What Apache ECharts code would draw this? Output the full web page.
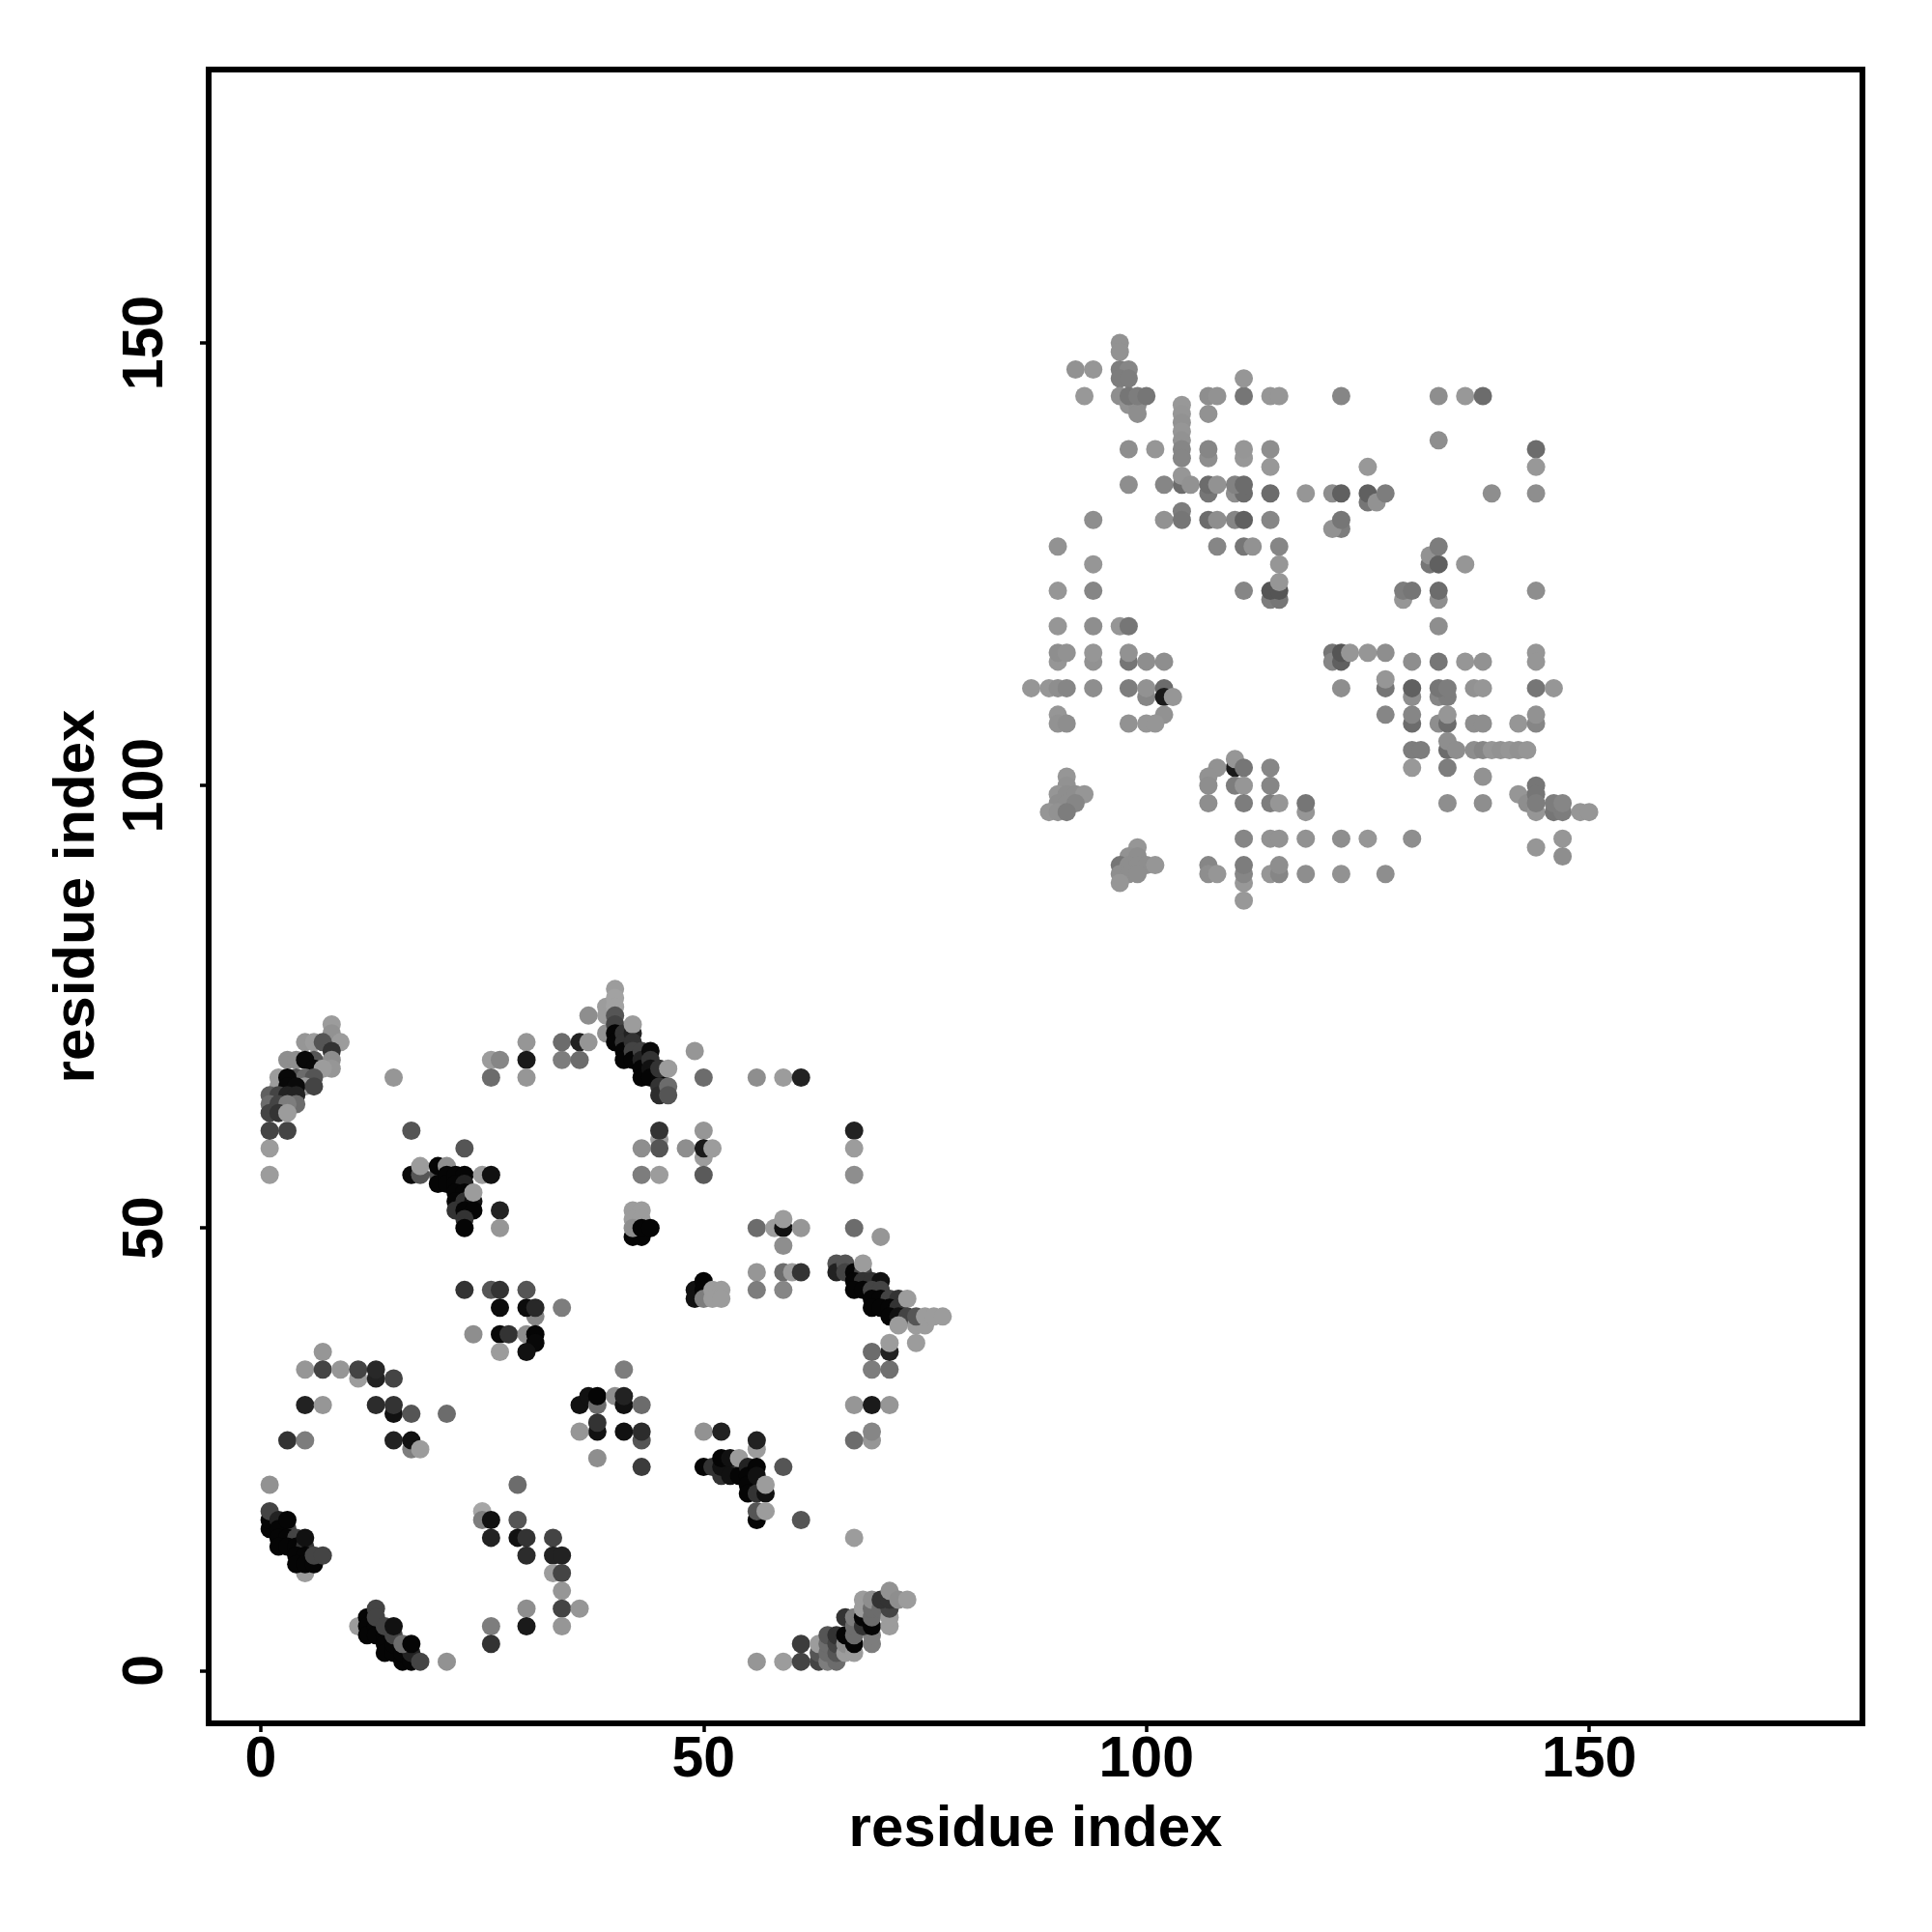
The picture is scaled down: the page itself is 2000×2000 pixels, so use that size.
<!DOCTYPE html>
<html><head><meta charset="utf-8">
<style>html,body{margin:0;padding:0;background:#fff}#c{width:2000px;height:2000px}</style>
<script src="https://cdn.jsdelivr.net/npm/echarts@6/dist/echarts.min.js"></script>
</head><body><div id="c"></div>
<script>
// Each contact: [residue i, residue j, grey level]
const axisTitle = 'residue index';
const tickValues = [0, 50, 100, 150];
const arcUpperLeft = [[1,56,0x96],[1,59,0x96],[1,61,0x44],[3,61,0x44],[8,73,0x96],[8,72,0x8c],[9,71,0x96],[5,71,0x90],[6,71,0x96],[7,71,0x55],[8,70,0x33],[8,69,0x88],[3,69,0x88],[4,69,0x88],[6,69,0x55],[5,69,0x08],[6,68,0x08],[8,68,0x90],[7,68,0x96],[2,67,0x96],[4,67,0x55],[5,67,0x66],[6,67,0x55],[2,66,0x96],[5,66,0x96],[3,67,0x08],[3,66,0x08],[4,66,0x0a],[6,66,0x44],[1,65,0x60],[2,65,0x44],[3,65,0x22],[4,65,0x22],[1,64,0x66],[2,64,0x44],[4,64,0x66],[3,64,0x77],[1,63,0x44],[2,63,0x33],[3,63,0x96]];
const blockA = [[15,67,0x90],[17,61,0x55],[23,59,0x55],[17,56,0x0a],[18,56,0x55],[18,57,0x96],[20,56,0x55],[20,55,0x05],[20,57,0x05],[21,57,0x88],[21,56,0x05],[21,55,0x05],[22,56,0x05],[23,56,0x05],[25,56,0x96],[26,56,0x11],[22,55,0x05],[23,55,0x22],[22,54,0x05],[23,54,0x05],[22,53,0x05],[23,53,0x33],[24,53,0x11],[22,52,0x33],[23,52,0x05],[24,52,0x05],[23,51,0x33],[23,50,0x05],[27,52,0x22],[27,50,0x90],[24,54,0x96]];
const blockB = [[26,43,0x55],[23,43,0x33],[27,43,0x33],[30,43,0x55],[27,41,0x0c],[31,40,0x80],[30,41,0x0c],[31,41,0x28],[34,41,0x77],[24,38,0x88],[27,38,0x08],[28,38,0x33],[30,38,0x88],[31,38,0x05],[31,37,0x08],[30,36,0x11],[27,36,0x96]];
const blockC = [[7,36,0x90],[5,34,0x90],[7,34,0x44],[9,34,0x90],[11,33,0x96],[11,34,0x44],[13,33,0x22],[13,34,0x28],[15,33,0x44],[5,30,0x22],[7,30,0x90],[13,30,0x2c],[15,29,0x11],[15,30,0x33],[17,29,0x55],[21,29,0x66],[3,26,0x33],[5,26,0x77],[15,26,0x22],[17,25,0x77],[17,26,0x11],[18,25,0x96],[1,21,0x8c]];
const diagLower = [[1,16,0x05],[1,17,0x05],[1,18,0x44],[2,17,0x22],[3,16,0x44],[2,16,0x05],[2,15,0x05],[3,15,0x05],[4,15,0x44],[2,14,0x05],[3,14,0x05],[4,14,0x05],[5,14,0x33],[3,17,0x05],[5,15,0x11],[5,11,0x96],[4,13,0x05],[5,13,0x05],[4,12,0x05],[5,12,0x05],[6,12,0x05],[6,13,0x44],[7,13,0x44]];
const blockD = [[25,18,0xa0],[25,17,0x77],[26,17,0x11],[29,21,0x66],[29,17,0x55],[26,15,0x22],[29,15,0x11],[30,15,0x33],[30,13,0x2c],[33,15,0x44],[33,13,0x22],[34,13,0x22],[33,11,0x96],[34,11,0x44],[34,9,0x90],[34,7,0x44],[36,7,0x90],[30,7,0x88],[30,5,0x1a],[34,5,0x90],[26,5,0x77],[26,3,0x33],[21,1,0x8c]];
const diagBottom = [[11,5,0x96],[12,6,0x05],[12,5,0x05],[12,4,0x05],[13,5,0x05],[13,4,0x05],[14,4,0x05],[14,3,0x05],[14,2,0x05],[15,2,0x05],[15,3,0x05],[16,1,0x05],[16,2,0x05],[17,1,0x05],[17,2,0x22],[13,7,0x44],[13,6,0x44],[14,5,0x44],[15,4,0x44],[16,3,0x66],[15,5,0x11],[17,3,0x05],[18,1,0x44]];
const blockE = [[36,30,0x11],[37,31,0x11],[38,30,0x66],[38,31,0x05],[38,27,0x11],[38,28,0x33],[36,27,0x90],[38,24,0x88],[41,34,0x77],[40,31,0x88],[41,30,0x11],[41,31,0x22],[43,30,0x66],[41,27,0x11],[43,26,0x55],[43,27,0x2c],[43,23,0x3c],[50,27,0x8c],[52,27,0x22]];
const blockF = [[56,25,0x96],[56,26,0x22],[50,23,0x05],[51,23,0x33],[52,22,0x33],[53,23,0x44],[52,23,0x11],[52,24,0x05],[53,22,0x11],[53,24,0x11],[54,22,0x05],[54,24,0x96],[55,23,0x22],[55,22,0x05],[55,21,0x05],[55,20,0x05],[56,23,0x05],[56,22,0x11],[56,20,0x33],[57,20,0x11],[57,21,0x96],[59,23,0x55],[56,17,0x05],[56,18,0x55],[57,18,0x96],[61,17,0x55],[67,15,0x96]];
const blockG = [[69,34,0x77],[71,34,0x6a],[69,36,0x66],[71,36,0x22],[71,37,0x96],[74,37,0x96],[67,30,0x90],[69,30,0x1a],[71,30,0x90],[69,26,0x90],[69,27,0x80],[67,26,0x66]];
const arcLowerRight = [[56,1,0x90],[59,1,0x96],[61,1,0x44],[61,3,0x3c],[63,1,0x44],[63,2,0x55],[63,3,0x96],[64,1,0x77],[64,2,0x66],[64,3,0x66],[64,4,0x55],[65,1,0x66],[65,2,0x55],[65,3,0x44],[65,4,0x33],[66,2,0x96],[66,3,0x88],[66,4,0x05],[66,6,0x33],[67,2,0x96],[67,3,0x05],[67,4,0x66],[67,5,0x66],[67,6,0x77],[69,3,0x77],[69,4,0x77],[68,5,0x33],[68,6,0x05],[68,7,0x96],[68,8,0x96],[69,5,0x05],[69,6,0x66],[69,7,0x66],[69,8,0x88],[70,7,0x66],[71,5,0x96],[71,6,0x96],[71,7,0x44],[70,8,0x33],[71,8,0x33],[71,9,0x8c],[72,8,0x88],[73,8,0x96]];
const diagTop = [[34,71,0x66],[36,71,0x22],[37,71,0x90],[34,69,0x77],[36,69,0x66],[30,71,0x90],[30,69,0x1a],[30,67,0x90],[26,69,0x96],[27,69,0x80],[26,67,0x66],[37,74,0x88],[39,75,0x96],[39,74,0x96],[39,72,0x8c],[40,77,0x96],[40,76,0x9c],[40,75,0x9c],[40,74,0x55],[40,73,0x44],[40,72,0x05],[40,71,0x05],[41,72,0x33],[41,71,0x33],[41,70,0x05],[41,69,0x05],[42,72,0x22],[42,73,0x96],[42,71,0x33],[42,70,0x44],[42,69,0x05],[43,70,0x44],[43,69,0x22],[43,68,0x05],[43,67,0x05],[44,70,0x0a],[44,69,0x33],[44,68,0x11],[44,67,0x05],[45,67,0x05],[45,68,0x33],[46,68,0x96],[45,66,0x33],[45,65,0x2c],[46,66,0x66],[46,65,0x55]];
const blockH = [[49,70,0x90],[50,67,0x66],[56,67,0x88],[59,67,0x96],[61,67,0x22],[45,60,0x96],[45,61,0x33],[50,61,0x90],[45,59,0x55],[43,59,0x88],[48,59,0x88],[50,58,0x96],[50,59,0x1a],[51,59,0x96],[43,56,0x77],[45,56,0x96],[50,56,0x5a],[67,61,0x22],[67,59,0x96],[67,56,0x88]];
const blockI = [[42,52,0x96],[43,52,0x96],[42,51,0x96],[43,51,0x96],[42,49,0x05],[43,49,0x05],[42,50,0x88],[43,50,0x05],[44,50,0x05],[56,50,0x66],[58,50,0x96],[59,50,0x11],[59,51,0x96],[61,50,0x90],[59,48,0x88],[67,50,0x66],[70,49,0x90],[56,45,0x90],[59,45,0x66],[60,45,0x96],[61,45,0x33],[56,43,0x77],[59,43,0x80]];
const blockJ = [[49,43,0x11],[49,42,0x11],[50,44,0x05],[50,43,0x05],[50,42,0x77],[51,43,0x96],[52,43,0x96],[51,42,0x96],[52,42,0x96]];
const diagRight = [[65,46,0x55],[65,45,0x22],[66,46,0x55],[66,45,0x44],[67,45,0x05],[68,45,0x44],[68,46,0x96],[67,44,0x05],[68,44,0x33],[69,44,0x33],[70,44,0x11],[67,43,0x05],[68,43,0x05],[69,43,0x44],[70,43,0x44],[69,42,0x05],[70,42,0x05],[71,42,0x44],[72,42,0x33],[69,41,0x05],[70,41,0x05],[71,41,0x05],[72,41,0x33],[73,42,0x96],[71,40,0x05],[72,40,0x11],[73,40,0x44],[72,39,0x96],[74,39,0x96],[75,39,0x96],[74,40,0x55],[75,40,0x96],[76,40,0x96],[77,40,0x96]];
const upperTopLeft = [[97,150,0x8c],[97,149,0x8c],[92,147,0x8c],[94,147,0x90],[97,147,0x77],[98,147,0x80],[97,146,0x77],[98,146,0x77],[93,144,0x92],[97,144,0x88],[98,143,0x8c],[99,143,0x88],[99,142,0x88],[98,144,0x70],[99,144,0x77],[100,144,0x70],[104,143,0x92],[104,142,0x90],[104,141,0x8c],[104,140,0x90],[104,139,0x8c],[104,138,0x80],[104,137,0x80],[98,138,0x88],[101,138,0x90],[107,137,0x88],[107,138,0x80],[111,137,0x92],[111,138,0x90],[114,138,0x88],[114,136,0x92],[107,144,0x88],[108,144,0x8c],[111,144,0x70],[111,146,0x90],[114,144,0x90],[115,144,0x90],[107,142,0x8c],[104,134,0x66],[104,135,0x90],[105,134,0x8c],[98,134,0x88],[102,134,0x80],[107,133,0x70],[107,134,0x66],[108,134,0x8c],[110,133,0x88],[111,133,0x66],[110,134,0x7c],[111,134,0x66],[114,133,0x66],[118,133,0x90],[94,130,0x88],[102,130,0x8c],[104,131,0x77],[104,130,0x70],[107,130,0x66],[108,130,0x88],[110,130,0x80],[111,130,0x60],[114,130,0x80],[90,127,0x8c],[108,127,0x80],[111,127,0x70],[112,127,0x8c],[115,127,0x80],[115,125,0x90],[94,125,0x90],[90,122,0x90],[94,122,0x80],[111,122,0x80],[114,121,0x77],[115,121,0x70],[114,122,0x55],[115,122,0x55],[115,123,0x90]];
const upperTopRight = [[122,144,0x80],[133,144,0x88],[136,144,0x92],[138,144,0x66],[133,139,0x88],[144,138,0x66],[144,136,0x92],[144,133,0x88],[139,133,0x88],[125,136,0x92],[121,133,0x88],[122,133,0x60],[125,132,0x70],[125,133,0x60],[126,132,0x8c],[127,133,0x77],[122,129,0x77],[121,129,0x8c],[122,130,0x70],[132,125,0x70],[132,126,0x8c],[133,125,0x60],[133,127,0x77],[136,125,0x90],[129,121,0x90],[129,122,0x77],[130,122,0x70],[133,121,0x88],[133,122,0x66],[133,118,0x88],[144,122,0x88]];
const upperMidLeft = [[90,118,0x90],[94,118,0x88],[97,118,0x90],[98,118,0x70],[90,114,0x90],[90,115,0x88],[91,115,0x8c],[94,114,0x8c],[94,115,0x90],[98,114,0x70],[98,115,0x8c],[100,114,0x88],[102,114,0x88],[87,111,0x90],[89,111,0x90],[90,111,0x88],[91,111,0x80],[94,111,0x88],[98,111,0x77],[100,110,0x80],[100,111,0x8c],[102,111,0x66],[102,110,0x1a],[103,110,0x90],[102,108,0x8c],[90,108,0x90],[90,107,0x8c],[91,107,0x88],[98,107,0x8c],[100,107,0x90],[101,107,0x90]];
const upperLowLeft = [[91,101,0x90],[91,100,0x8c],[90,99,0x90],[91,99,0x88],[92,99,0x88],[93,99,0x90],[90,98,0x88],[91,98,0x88],[92,98,0x80],[89,97,0x90],[90,97,0x8c],[91,97,0x77],[110,102,0x1a],[110,103,0x90],[111,102,0x70],[108,102,0x8c],[107,101,0x8c],[107,100,0x88],[110,100,0x77],[111,100,0x90],[114,102,0x80],[114,100,0x80],[107,98,0x88],[111,98,0x77],[114,98,0x77],[115,98,0x90],[118,97,0x90],[118,98,0x70]];
const upperBottom = [[111,94,0x80],[114,94,0x8c],[115,94,0x8c],[118,94,0x8c],[99,93,0x90],[98,92,0x8c],[99,92,0x88],[97,91,0x70],[98,91,0x88],[99,91,0x88],[100,91,0x88],[101,91,0x90],[97,90,0x88],[98,90,0x88],[99,90,0x88],[97,89,0x90],[107,91,0x80],[107,90,0x88],[108,90,0x90],[111,89,0x92],[111,90,0x80],[111,91,0x77],[111,87,0x92],[114,90,0x90],[115,90,0x80],[115,91,0x88],[118,90,0x88]];
const upperRight = [[121,115,0x70],[121,114,0x80],[122,114,0x60],[122,115,0x55],[123,115,0x90],[125,115,0x90],[127,115,0x88],[130,114,0x88],[133,114,0x70],[136,114,0x90],[138,114,0x8c],[144,115,0x90],[144,114,0x90],[122,111,0x88],[127,111,0x70],[127,112,0x90],[130,110,0x88],[130,111,0x60],[133,110,0x80],[134,110,0x77],[133,111,0x70],[134,111,0x77],[137,111,0x8c],[138,111,0x90],[144,111,0x70],[146,111,0x90],[127,108,0x80],[130,107,0x66],[130,108,0x80],[133,107,0x88],[134,107,0x66],[134,108,0x90],[137,107,0x88],[138,107,0x88],[142,107,0x90],[144,107,0x80],[144,108,0x8c],[130,104,0x77],[131,104,0x77],[134,104,0x66],[134,105,0x88],[135,104,0x88],[137,104,0x88],[138,104,0x80],[139,104,0x90],[140,104,0x8c],[141,104,0x90],[142,104,0x8c],[143,104,0x90],[130,102,0x92],[134,102,0x77],[138,101,0x8c],[134,98,0x88],[138,98,0x88],[142,99,0x90],[143,98,0x88],[144,97,0x90],[144,100,0x70],[144,99,0x70],[144,98,0x77],[146,97,0x70],[147,97,0x77],[146,98,0x77],[147,98,0x80],[149,97,0x90],[150,97,0x90],[122,94,0x88],[125,94,0x90],[130,94,0x88],[147,94,0x90],[144,93,0x90],[147,92,0x88],[122,90,0x8c],[127,90,0x88]];

const contacts = [].concat(arcUpperLeft, blockA, blockB, blockC, diagLower, blockD, diagBottom, blockE, blockF, blockG, arcLowerRight, diagTop, blockH, blockI, blockJ, diagRight, upperTopLeft, upperTopRight, upperMidLeft, upperLowLeft, upperBottom, upperRight);

const font = '"Liberation Sans", Arial, sans-serif';
function axis(extra, labelExtra){
  return Object.assign({
    type:'value', name:axisTitle, nameLocation:'middle', nameMoveOverlap:false,
    nameTextStyle:{fontFamily:font,fontWeight:'bold',fontSize:60,color:'#000'},
    splitLine:{show:false}, axisLine:{show:false,onZero:false},
    axisTick:{show:true,customValues:tickValues,length:9,inside:false,lineStyle:{color:'#000',width:3.5}},
    axisLabel:Object.assign({show:true,customValues:tickValues,fontFamily:font,fontWeight:'bold',fontSize:59,color:'#000'},labelExtra)
  },extra);
}
const chart = echarts.init(document.getElementById('c'),null,{renderer:'canvas',width:2000,height:2000});
const opt = {
  backgroundColor:'#fff', animation:false,
  grid:{left:216,top:72,width:1712,height:1712,show:true,borderColor:'#000',borderWidth:6,backgroundColor:'#fff'},
  xAxis:axis({min:-5.89,max:180.86,nameGap:80},{margin:9}),
  yAxis:axis({min:-5.97,max:180.9,nameGap:106},{rotate:90,margin:64,align:'center',verticalAlign:'middle'}),
  series:[{type:'scatter',symbol:'circle',symbolSize:19,silent:true,large:false,
    data:contacts,
    itemStyle:{opacity:1,color:p=>{const v=p.value[2];const g=v>0x60?v+6:v;return 'rgb('+g+','+g+','+g+')';}}}]
};
chart.setOption(opt);
</script></body></html>
